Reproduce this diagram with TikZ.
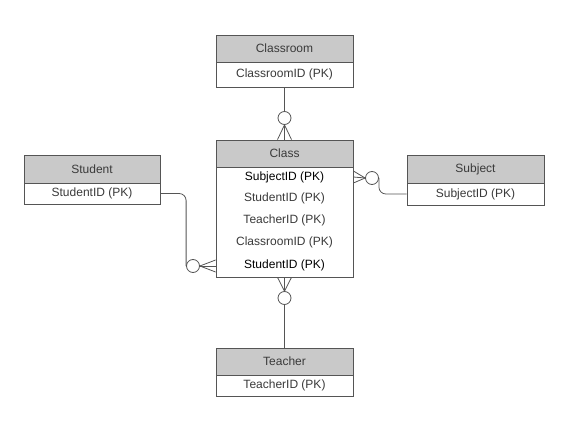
\documentclass[tikz,border=0pt]{standalone}
\usepackage{fontspec}
\setmainfont{Liberation Sans}
\definecolor{edgegray}{HTML}{555555}
\definecolor{headgray}{HTML}{C9C9C9}
\definecolor{textgray}{HTML}{3A3A3A}
\tikzset{
	head/.style={draw=edgegray, fill=headgray, minimum width=137pt, minimum height=27pt, inner sep=0pt, text=textgray},
	body/.style={draw=edgegray, fill=white, minimum width=137pt, inner sep=0pt, text=textgray},
	row/.style={inner sep=0pt, text=textgray},
	ring/.style={circle, draw=edgegray, fill=white, minimum size=13pt, inner sep=0pt},
	link/.style={draw=edgegray, line width=0.8pt}
}
\begin{document}
\begin{tikzpicture}[x=1pt, y=-1pt, font=\fontsize{12}{14}\selectfont]
		\useasboundingbox (0, 0) rectangle (583, 446);
		\begin{scope}[every node/.append style={line width=0.8pt}]
			\node[head] (roomhead) at (284.5, 48.5) {Classroom};
			\node[body, minimum height=25pt] (roomid) at (284.5, 74.5) {ClassroomID (PK)};
			\node[head] (classhead) at (284.5, 153.5) {Class};
			\node[body, minimum height=110pt] (classbody) at (284.5, 222) {};
			\node[head, minimum width=136pt, minimum height=28pt] (studenthead) at (92, 169) {Student};
			\node[body, minimum width=136pt, minimum height=21pt] (studentid) at (92, 193.5) {StudentID (PK)};
			\node[head, minimum height=28pt] (subjecthead) at (475.5, 169) {Subject};
			\node[body, minimum height=22pt] (subjectid) at (475.5, 194) {SubjectID (PK)};
			\node[head] (teacherhead) at (284.5, 361.5) {Teacher};
			\node[body, minimum height=21pt] (teacherid) at (284.5, 385.5) {TeacherID (PK)};

			% rings
			\node[ring] (c1) at (284.5, 118) {};
			\node[ring] (c2) at (372, 178) {};
			\node[ring] (c3) at (193, 266) {};
			\node[ring] (c4) at (284.5, 298) {};
		\end{scope}

		\node[row, text=black] (r1) at (284.5, 177) {SubjectID (PK)};
		\node[row] (r2) at (284.5, 198) {StudentID (PK)};
		\node[row] (r3) at (284.5, 220) {TeacherID (PK)};
		\node[row] (r4) at (284.5, 242) {ClassroomID (PK)};
		\node[row, text=black] (r5) at (284.5, 265) {StudentID (PK)};

		% lines to the rings
		\draw[link] (roomid.south) -- (c1.north);
		\draw[link] (teacherhead.north) -- (c4.south);
		\draw[link, rounded corners=7pt] (studentid.east) -| (c3.west);
		\draw[link, rounded corners=7pt] (subjectid.west) -| (c2.east);

		% crow's feet
		\foreach \d in {-7, 0, 7} {
			\draw[link] (c1.south) -- ([xshift=\d pt]classhead.north);
			\draw[link] (c4.north) -- ([xshift=\d pt]classbody.south);
		}
		\foreach \d in {-6, 0, 6} {
			\draw[link] (c2.west) -- ([yshift=\d pt]classbody.east |- r1);
			\draw[link] (c3.east) -- ([yshift=\d pt]classbody.west |- c3);
		}
	\end{tikzpicture}
\end{document}
